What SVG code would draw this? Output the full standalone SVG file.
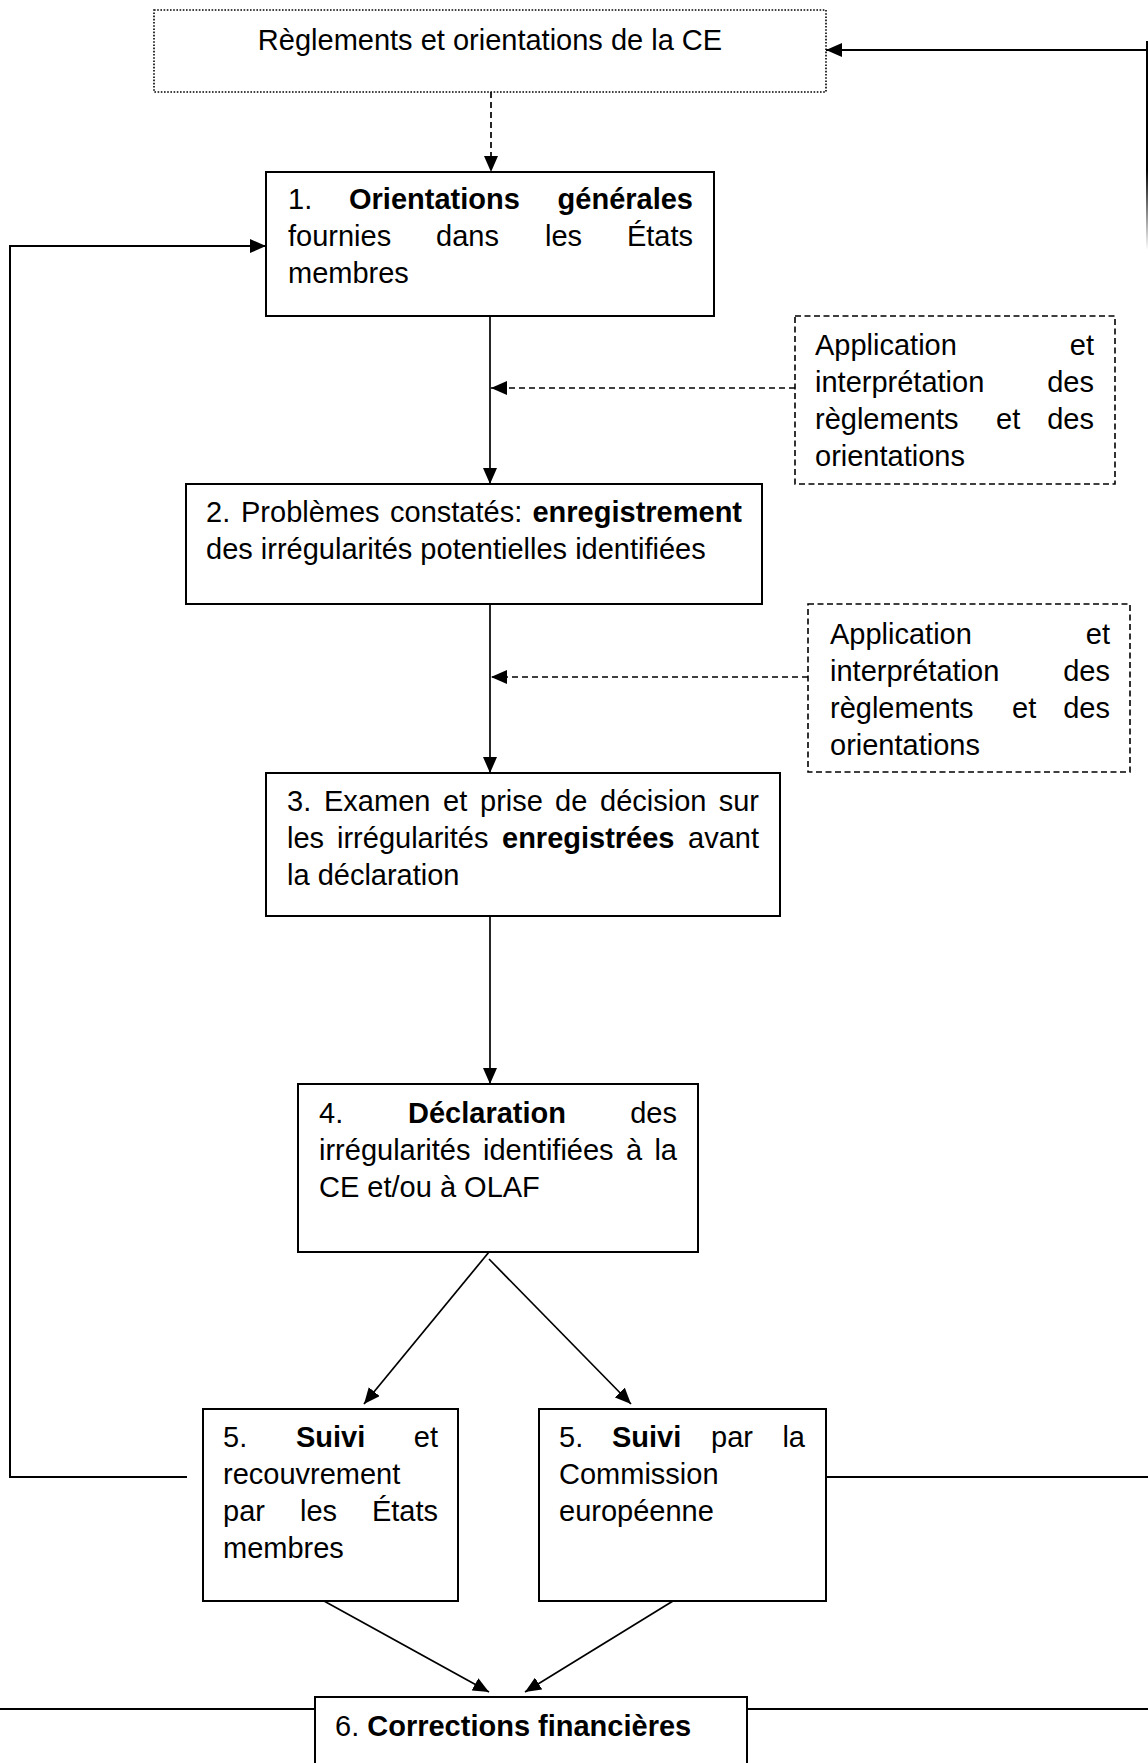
<svg xmlns="http://www.w3.org/2000/svg" width="1148" height="1763" viewBox="0 0 1148 1763">
<style>
text{font-family:"Liberation Sans",Arial,sans-serif;font-size:29px;fill:#000}
.b{font-weight:bold}
.box{fill:#fff;stroke:#000;stroke-width:2}
.dot{fill:#fff;stroke:#000;stroke-width:1.6;stroke-dasharray:1.6 1.6}
.dash{fill:#fff;stroke:#000;stroke-width:1.6;stroke-dasharray:6 3.5}
.ln{fill:none;stroke:#000;stroke-width:1.7}
.lnd{fill:none;stroke:#000;stroke-width:1.7;stroke-dasharray:6 4}
.fb{fill:none;stroke:#000;stroke-width:2}
</style>
<defs>
<marker id="ah" viewBox="0 0 16 14" refX="16" refY="7" markerWidth="16" markerHeight="14" markerUnits="userSpaceOnUse" orient="auto">
<path d="M0,0 L16,7 L0,14 z" fill="#000" stroke="none"/>
</marker>
<linearGradient id="fade" gradientUnits="userSpaceOnUse" x1="0" y1="170" x2="0" y2="250">
<stop offset="0" stop-color="#000"/>
<stop offset="1" stop-color="#000" stop-opacity="0"/>
</linearGradient>
</defs>

<g id="connectors">
<line class="lnd" x1="491" y1="92" x2="491" y2="172" marker-end="url(#ah)"/>
<line x1="1147" y1="41" x2="1147" y2="250" stroke="url(#fade)" stroke-width="2"/>
<line class="fb" x1="1147" y1="50" x2="826" y2="50" marker-end="url(#ah)"/>
<line class="ln" x1="490" y1="316" x2="490" y2="484" marker-end="url(#ah)"/>
<line class="lnd" x1="795" y1="388" x2="491" y2="388" marker-end="url(#ah)"/>
<line class="ln" x1="490" y1="604" x2="490" y2="773" marker-end="url(#ah)"/>
<line class="lnd" x1="808" y1="677" x2="491" y2="677" marker-end="url(#ah)"/>
<line class="ln" x1="490" y1="916" x2="490" y2="1084" marker-end="url(#ah)"/>
<line class="ln" x1="489" y1="1252" x2="364" y2="1404" marker-end="url(#ah)"/>
<line class="ln" x1="489" y1="1259" x2="631" y2="1404" marker-end="url(#ah)"/>
<path class="fb" d="M187,1477 H10 V246 H266" marker-end="url(#ah)"/>
<path class="fb" d="M826,1477 H1148"/>
<line class="ln" x1="324" y1="1601" x2="489" y2="1692" marker-end="url(#ah)"/>
<line class="ln" x1="673" y1="1601" x2="525" y2="1692" marker-end="url(#ah)"/>
<path class="fb" d="M0,1709 H315 M747,1709 H1148"/>
</g>

<g id="n0">
<rect class="dot" x="154" y="10" width="672" height="82"/>
<text x="490" y="50" text-anchor="middle">Règlements et orientations de la CE</text>
</g>

<g id="n1">
<rect class="box" x="266" y="172" width="448" height="144"/>
<text y="209"><tspan x="288">1.</tspan><tspan class="b" x="349">Orientations</tspan><tspan class="b" x="693" text-anchor="end">générales</tspan></text>
<text y="246"><tspan x="288">fournies</tspan><tspan x="436">dans</tspan><tspan x="545">les</tspan><tspan x="693" text-anchor="end">États</tspan></text>
<text x="288" y="283">membres</text>
</g>

<g id="a1">
<rect class="dash" x="795" y="316" width="320" height="168"/>
<text y="355"><tspan x="815">Application</tspan><tspan x="1094" text-anchor="end">et</tspan></text>
<text y="392"><tspan x="815">interprétation</tspan><tspan x="1094" text-anchor="end">des</tspan></text>
<text y="429"><tspan x="815">règlements</tspan><tspan x="996">et</tspan><tspan x="1094" text-anchor="end">des</tspan></text>
<text x="815" y="466">orientations</text>
</g>

<g id="n2">
<rect class="box" x="186" y="484" width="576" height="120"/>
<text y="522"><tspan x="206">2.</tspan><tspan x="241">Problèmes</tspan><tspan x="390">constatés:</tspan><tspan class="b" x="742" text-anchor="end">enregistrement</tspan></text>
<text x="206" y="559">des irrégularités potentielles identifiées</text>
</g>

<g id="a2">
<rect class="dash" x="808" y="604" width="322" height="168"/>
<text y="644"><tspan x="830">Application</tspan><tspan x="1110" text-anchor="end">et</tspan></text>
<text y="681"><tspan x="830">interprétation</tspan><tspan x="1110" text-anchor="end">des</tspan></text>
<text y="718"><tspan x="830">règlements</tspan><tspan x="1012">et</tspan><tspan x="1110" text-anchor="end">des</tspan></text>
<text x="830" y="755">orientations</text>
</g>

<g id="n3">
<rect class="box" x="266" y="773" width="514" height="143"/>
<text y="811"><tspan x="287">3.</tspan><tspan x="324">Examen</tspan><tspan x="443">et</tspan><tspan x="480">prise</tspan><tspan x="555">de</tspan><tspan x="600">décision</tspan><tspan x="759" text-anchor="end">sur</tspan></text>
<text y="848"><tspan x="287">les</tspan><tspan x="337">irrégularités</tspan><tspan class="b" x="502">enregistrées</tspan><tspan x="759" text-anchor="end">avant</tspan></text>
<text x="287" y="885">la déclaration</text>
</g>

<g id="n4">
<rect class="box" x="298" y="1084" width="400" height="168"/>
<text y="1123"><tspan x="319">4.</tspan><tspan class="b" x="408">Déclaration</tspan><tspan x="677" text-anchor="end">des</tspan></text>
<text y="1160"><tspan x="319">irrégularités</tspan><tspan x="483">identifiées</tspan><tspan x="626">à</tspan><tspan x="677" text-anchor="end">la</tspan></text>
<text x="319" y="1197">CE et/ou à OLAF</text>
</g>

<g id="n5a">
<rect class="box" x="203" y="1409" width="255" height="192"/>
<text y="1447"><tspan x="223">5.</tspan><tspan class="b" x="296">Suivi</tspan><tspan x="438" text-anchor="end">et</tspan></text>
<text x="223" y="1484">recouvrement</text>
<text y="1521"><tspan x="223">par</tspan><tspan x="300">les</tspan><tspan x="438" text-anchor="end">États</tspan></text>
<text x="223" y="1558">membres</text>
</g>

<g id="n5b">
<rect class="box" x="539" y="1409" width="287" height="192"/>
<text y="1447"><tspan x="559">5.</tspan><tspan class="b" x="612">Suivi</tspan><tspan x="711">par</tspan><tspan x="805" text-anchor="end">la</tspan></text>
<text x="559" y="1484">Commission</text>
<text x="559" y="1521">européenne</text>
</g>

<g id="n6">
<rect class="box" x="315" y="1697" width="432" height="100"/>
<text x="335" y="1736">6. <tspan class="b">Corrections financières</tspan></text>
</g>
</svg>
